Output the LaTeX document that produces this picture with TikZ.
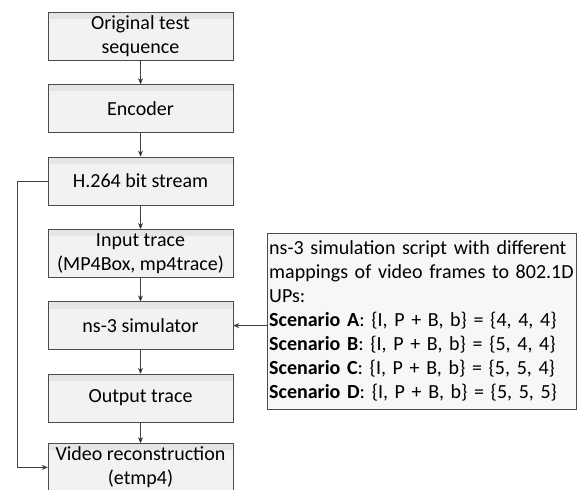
\documentclass[tikz,border=0pt]{standalone}
\usepackage{fontspec}
\setmainfont{Carlito}
\usetikzlibrary{positioning,arrows.meta}

\begin{document}
\begin{tikzpicture}[
x=1pt,y=-1pt,
font=\fontsize{20}{24}\selectfont,
stage/.style={rectangle, draw=black!70, fill=black!5, minimum width=185pt, minimum height=48pt, align=center, inner sep=2pt,
  path picture={\fill[black!10] (path picture bounding box.north west) rectangle ([yshift=-7pt]path picture bounding box.north east);}},
note/.style={rectangle, draw=black!70, fill=black!3, text width=305pt, align=left, inner sep=2pt, minimum height=176pt},
flow/.style={draw=black!75, semithick, -{Stealth[length=6pt,width=5pt]}},
node distance=24pt,
]
\useasboundingbox (0,0) rectangle (579,490);

\node[stage] (orig) at (140.5,36) {Original test\\sequence};
\node[stage, below=of orig] (enc) {Encoder};
\node[stage, below=of enc] (bits) {H.264 bit stream};
\node[stage, below=of bits] (intrace) {Input trace\\(MP4Box, mp4trace)};
\node[stage, below=of intrace] (sim) {ns-3 simulator};
\node[stage, below=of sim] (outtrace) {Output trace};
\node[stage, below=21pt of outtrace] (recon) {Video reconstruction\\(etmp4)};

\node[note, anchor=north west] (script) at (267,233) {%
ns-3 simulation script with different\\
mappings of video frames to 802.1D\\
UPs:\\
\textbf{Scenario A}: \{I, P + B, b\} = \{4, 4, 4\}\\
\textbf{Scenario B}: \{I, P + B, b\} = \{5, 4, 4\}\\
\textbf{Scenario C}: \{I, P + B, b\} = \{5, 5, 4\}\\
\textbf{Scenario D}: \{I, P + B, b\} = \{5, 5, 5\}};

\path[flow]
(orig) edge (enc)
(enc) edge (bits)
(bits) edge (intrace)
(intrace) edge (sim)
(sim) edge (outtrace)
(outtrace) edge (recon)
;
\draw[flow] (bits.west) -- ++(-31,0) |- (recon.west);
\draw[flow] (script.west |- sim.east) -- (sim.east);
\end{tikzpicture}
\end{document}
